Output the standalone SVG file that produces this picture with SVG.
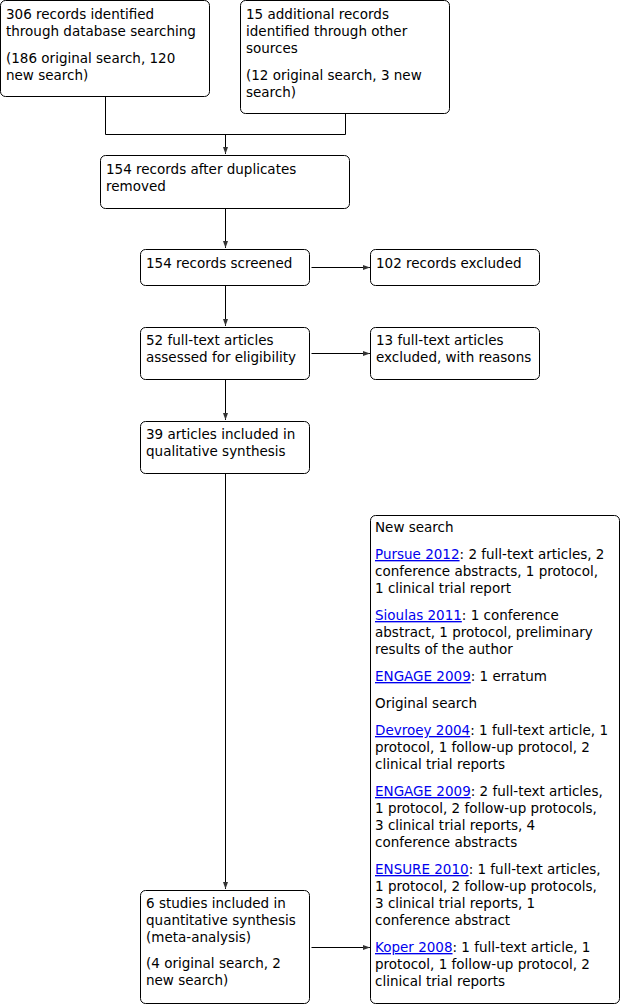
<svg xmlns="http://www.w3.org/2000/svg" width="621" height="1005" viewBox="0 0 621 1005">
<style>
.box{fill:#fff;stroke:#000;stroke-width:1}
.t{font-family:"DejaVu Sans",sans-serif;font-size:13.5px;fill:#000}
.lnk{fill:#0000EE;text-decoration:underline}
.ln{fill:none;stroke:#000;stroke-width:1}
</style>
<defs>
<marker id="ah" markerUnits="userSpaceOnUse" markerWidth="8" markerHeight="6" refX="7" refY="3" orient="auto">
<path d="M0,0.5 L7,3 L0,5.5 z" fill="#333"/>
</marker>
</defs>
<rect width="621" height="1005" fill="#fff"/>
<g id="connectors">
<path class="ln" d="M105.5,96.5 V134.5 H345.5 V113.5"/>
<path class="ln" d="M225.5,134.5 V154" marker-end="url(#ah)"/>
<path class="ln" d="M225.5,208.5 V248" marker-end="url(#ah)"/>
<path class="ln" d="M225.5,285.5 V326" marker-end="url(#ah)"/>
<path class="ln" d="M225.5,379.5 V420" marker-end="url(#ah)"/>
<path class="ln" d="M225.5,473.5 V889" marker-end="url(#ah)"/>
<path class="ln" d="M311.5,267.5 H370" marker-end="url(#ah)"/>
<path class="ln" d="M311.5,353.5 H370" marker-end="url(#ah)"/>
<path class="ln" d="M311.5,947.5 H370" marker-end="url(#ah)"/>
</g>
<g id="n1">
<rect class="box" x="0.5" y="0.5" width="209" height="96" rx="5"/>
<text class="t" x="6" y="19">306 records identified</text>
<text class="t" x="6" y="36">through database searching</text>
<text class="t" x="6" y="63">(186 original search, 120</text>
<text class="t" x="6" y="80">new search)</text>
</g>
<g id="n2">
<rect class="box" x="240.5" y="0.5" width="209" height="113" rx="5"/>
<text class="t" x="246" y="19">15 additional records</text>
<text class="t" x="246" y="36">identified through other</text>
<text class="t" x="246" y="53">sources</text>
<text class="t" x="246" y="80">(12 original search, 3 new</text>
<text class="t" x="246" y="97">search)</text>
</g>
<g id="n3">
<rect class="box" x="100.5" y="155.5" width="249" height="53" rx="5"/>
<text class="t" x="106" y="174">154 records after duplicates</text>
<text class="t" x="106" y="191">removed</text>
</g>
<g id="n4">
<rect class="box" x="140.5" y="249.5" width="169" height="36" rx="5"/>
<text class="t" x="146" y="268">154 records screened</text>
</g>
<g id="n5">
<rect class="box" x="370.5" y="249.5" width="169" height="36" rx="5"/>
<text class="t" x="376" y="268">102 records excluded</text>
</g>
<g id="n6">
<rect class="box" x="140.5" y="327.5" width="169" height="52" rx="5"/>
<text class="t" x="146" y="345">52 full-text articles</text>
<text class="t" x="146" y="362">assessed for eligibility</text>
</g>
<g id="n7">
<rect class="box" x="370.5" y="327.5" width="169" height="52" rx="5"/>
<text class="t" x="376" y="345">13 full-text articles</text>
<text class="t" x="376" y="362">excluded, with reasons</text>
</g>
<g id="n8">
<rect class="box" x="140.5" y="421.5" width="169" height="52" rx="5"/>
<text class="t" x="146" y="439">39 articles included in</text>
<text class="t" x="146" y="456">qualitative synthesis</text>
</g>
<g id="n9">
<rect class="box" x="140.5" y="890.5" width="169" height="113" rx="5"/>
<text class="t" x="146" y="908">6 studies included in</text>
<text class="t" x="146" y="925">quantitative synthesis</text>
<text class="t" x="146" y="942">(meta-analysis)</text>
<text class="t" x="146" y="968">(4 original search, 2</text>
<text class="t" x="146" y="985">new search)</text>
</g>
<g id="n10">
<rect class="box" x="370.5" y="515.5" width="249" height="488" rx="5"/>
<text class="t" x="375" y="532">New search</text>
<text class="t" x="375" y="559"><tspan class="lnk">Pursue 2012</tspan>: 2 full-text articles, 2</text>
<text class="t" x="375" y="576">conference abstracts, 1 protocol,</text>
<text class="t" x="375" y="593">1 clinical trial report</text>
<text class="t" x="375" y="620"><tspan class="lnk">Sioulas 2011</tspan>: 1 conference</text>
<text class="t" x="375" y="637">abstract, 1 protocol, preliminary</text>
<text class="t" x="375" y="654">results of the author</text>
<text class="t" x="375" y="681"><tspan class="lnk">ENGAGE 2009</tspan>: 1 erratum</text>
<text class="t" x="375" y="708">Original search</text>
<text class="t" x="375" y="735"><tspan class="lnk">Devroey 2004</tspan>: 1 full-text article, 1</text>
<text class="t" x="375" y="752">protocol, 1 follow-up protocol, 2</text>
<text class="t" x="375" y="769">clinical trial reports</text>
<text class="t" x="375" y="796"><tspan class="lnk">ENGAGE 2009</tspan>: 2 full-text articles,</text>
<text class="t" x="375" y="813">1 protocol, 2 follow-up protocols,</text>
<text class="t" x="375" y="830">3 clinical trial reports, 4</text>
<text class="t" x="375" y="847">conference abstracts</text>
<text class="t" x="375" y="874"><tspan class="lnk">ENSURE 2010</tspan>: 1 full-text articles,</text>
<text class="t" x="375" y="891">1 protocol, 2 follow-up protocols,</text>
<text class="t" x="375" y="908">3 clinical trial reports, 1</text>
<text class="t" x="375" y="925">conference abstract</text>
<text class="t" x="375" y="952"><tspan class="lnk">Koper 2008</tspan>: 1 full-text article, 1</text>
<text class="t" x="375" y="969">protocol, 1 follow-up protocol, 2</text>
<text class="t" x="375" y="986">clinical trial reports</text>
</g>
</svg>
